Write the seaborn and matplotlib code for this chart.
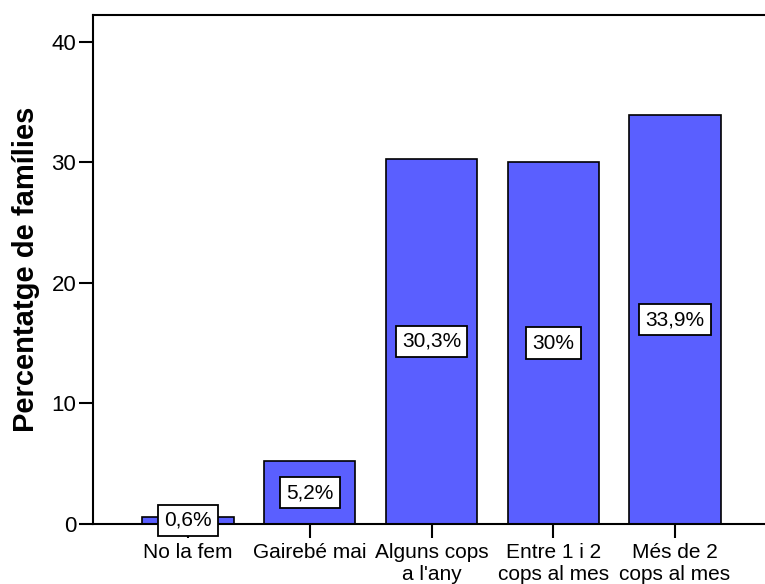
import matplotlib
matplotlib.use("Agg")
import matplotlib.pyplot as plt
import seaborn as sns
import pandas as pd

categories = ["No la fem", "Gairebé mai", "Alguns cops\na l'any", "Entre 1 i 2\ncops al mes", "Més de 2\ncops al mes"]
percentages = [0.6, 5.2, 30.3, 30.0, 33.9]
bar_labels = ["0,6%", "5,2%", "30,3%", "30%", "33,9%"]
y_ticks = [0, 10, 20, 30, 40]

sns.set_style("white")
plt.rcParams["font.family"] = ["Liberation Sans", "DejaVu Sans"]
plt.rcParams["text.color"] = "black"
plt.rcParams["axes.labelcolor"] = "black"
plt.rcParams["xtick.color"] = "black"
plt.rcParams["ytick.color"] = "black"

df = pd.DataFrame({"cat": categories, "pct": percentages})

W, H = 765, 584
fig = plt.figure(figsize=(W / 100, H / 100), dpi=100)
ax = fig.add_axes([93 / W, (H - 524) / H, (W + 5 - 93) / W, (524 - 15) / H])

sns.barplot(data=df, x="cat", y="pct", color="#5a5fff", saturation=1,
            width=0.75, edgecolor="black", linewidth=1.2, ax=ax)

for i, (v, lab) in enumerate(zip(percentages, bar_labels)):
    ax.text(i, v / 2, lab, ha="center", va="center", fontsize=15,
            bbox=dict(boxstyle="square,pad=0.3", facecolor="white",
                      edgecolor="black", linewidth=1.3))

ax.set_xlim(-0.78, 4.78)
ax.set_ylim(0, 42.24)
ax.set_yticks(y_ticks)
ax.set_yticklabels([str(t) for t in y_ticks], fontsize=16)
ax.tick_params(axis="x", labelsize=15, length=10, width=1.5, direction="out",
               bottom=True, pad=4, labelcolor="black")
ax.tick_params(axis="y", length=10, width=1.5, direction="out", left=True, pad=2,
               labelcolor="black")
ax.set_xlabel("")
ax.set_ylabel("Percentatge de famílies", fontsize=21, fontweight="bold",
              labelpad=8, color="black")

for side in ["left", "bottom", "top"]:
    ax.spines[side].set_visible(True)
    ax.spines[side].set_color("black")
    ax.spines[side].set_linewidth(1.5)
ax.spines["right"].set_visible(False)

fig.savefig("out.png", dpi=100)
